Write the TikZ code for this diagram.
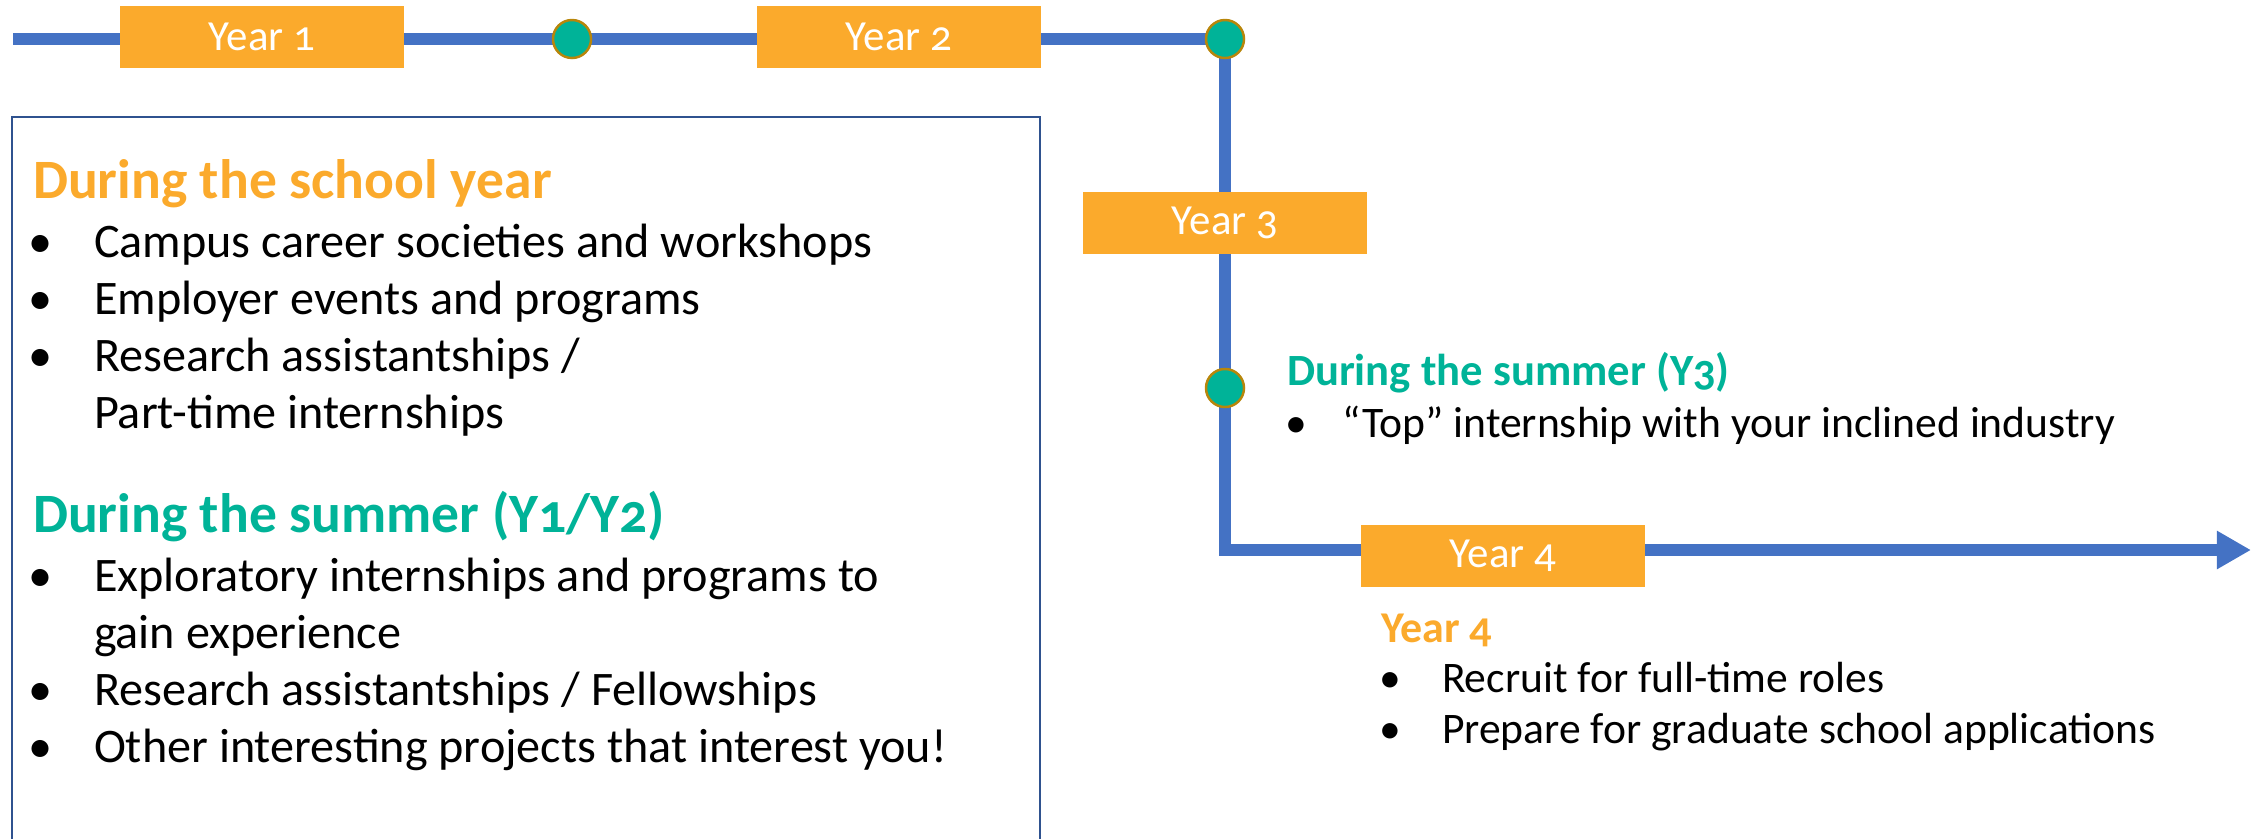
\documentclass[tikz,border=0pt]{standalone}
\usepackage{fontspec}
\setmainfont{Carlito}[Numbers=OldStyle]
\usetikzlibrary{positioning,arrows.meta,backgrounds}

\definecolor{yearorange}{RGB}{251,170,44}
\definecolor{dotgreen}{RGB}{0,179,152}
\definecolor{dotrim}{RGB}{184,134,11}
\definecolor{lineblue}{RGB}{68,114,196}
\definecolor{boxblue}{RGB}{47,82,143}

% #1 = text indent, #2 = bullet offset
\newenvironment{yearlist}[2]{%
  \begin{list}{\textbullet}{%
    \setlength{\leftmargin}{#1}\setlength{\labelwidth}{#1}\setlength{\labelsep}{0pt}%
    \setlength{\itemsep}{0pt}\setlength{\parsep}{0pt}%
    \setlength{\topsep}{0pt}\setlength{\partopsep}{0pt}%
    \renewcommand{\makelabel}[1]{\hspace*{#2}##1\hfil}}}%
  {\end{list}}

\tikzset{
  yearbox/.style={fill=yearorange, text=white, minimum width=2.84cm, minimum height=0.61cm,
                  inner sep=0pt, font=\fontsize{12.2}{14}\selectfont},
  milestone/.style={circle, fill=dotgreen, draw=dotrim, line width=0.7pt,
                    minimum size=0.38cm, inner sep=0pt},
  timeline/.style={draw=lineblue, line width=0.12cm, -{Triangle[length=0.34cm,width=0.36cm]}},
  panel/.style={draw=boxblue, line width=0.02cm},
  notes/.style={anchor=base west, inner sep=0pt, outer sep=0pt},
}

\begin{document}
\begin{tikzpicture}[x=0.01cm, y=-0.01cm]
\useasboundingbox (0,0) rectangle (2259,839);

% years and milestones
\node[yearbox] (year1) at (262,37) {Year 1};
\node[milestone] (dot1) at (572,39) {};
\node[yearbox] (year2) at (899,37) {Year 2};
\node[milestone] (dot2) at (1225,39) {};
\node[yearbox] (year3) at (1225,223) {Year 3};
\node[milestone] (dot3) at (1225,388) {};
\node[yearbox] (year4) at (1503,556) {Year 4};
\coordinate (start) at (13,39);
\coordinate (tip) at (2251,550);

\begin{scope}[on background layer]
\draw[timeline] (start) -- (dot2.center) -- (dot2.center |- tip) -- (tip);
\end{scope}

% left panel
\draw[panel] (12,845) -- (12,117) -- (1040,117) -- (1040,845);

\node[notes] (schoolyear) at (33,198) {
\begin{minipage}[t]{10cm}\raggedright
{\fontsize{15.8}{18}\selectfont\bfseries\textcolor{yearorange}{During the school year}\par}
\vspace{0.03cm}
\fontsize{13.7}{16.2}\selectfont
\begin{yearlist}{0.61cm}{-0.04cm}
  \item Campus career societies and workshops
  \item Employer events and programs
  \item Research assistantships /\\ Part-time internships
\end{yearlist}
\end{minipage}
};

\node[notes] (summer) at (33,532) {
\begin{minipage}[t]{10cm}\raggedright
{\fontsize{15.8}{18}\selectfont\bfseries\textcolor{dotgreen}{During the summer (Y1/Y2)}\par}
\vspace{0.03cm}
\fontsize{13.7}{16.2}\selectfont
\begin{yearlist}{0.61cm}{-0.04cm}
  \item Exploratory internships and programs to\\ gain experience
  \item Research assistantships / Fellowships
  \item Other interesting projects that interest you!
\end{yearlist}
\end{minipage}
};

% right notes
\node[notes] (summerthree) at (1287,385) {
\begin{minipage}[t]{9cm}\raggedright
{\fontsize{12.7}{15}\selectfont\bfseries\textcolor{dotgreen}{During the summer (Y3)}\par}
\fontsize{12.4}{14.8}\selectfont
\begin{yearlist}{0.55cm}{-0.02cm}
  \item “Top” internship with your inclined industry
\end{yearlist}
\end{minipage}
};

\node[notes] (yearfournotes) at (1381,642) {
\begin{minipage}[t]{9cm}\raggedright
{\fontsize{12.5}{15}\selectfont\bfseries\textcolor{yearorange}{Year 4}\par}
\fontsize{12.4}{14.5}\selectfont
\begin{yearlist}{0.61cm}{-0.02cm}
  \item Recruit for full-time roles
  \item Prepare for graduate school applications
\end{yearlist}
\end{minipage}
};

\end{tikzpicture}
\end{document}
